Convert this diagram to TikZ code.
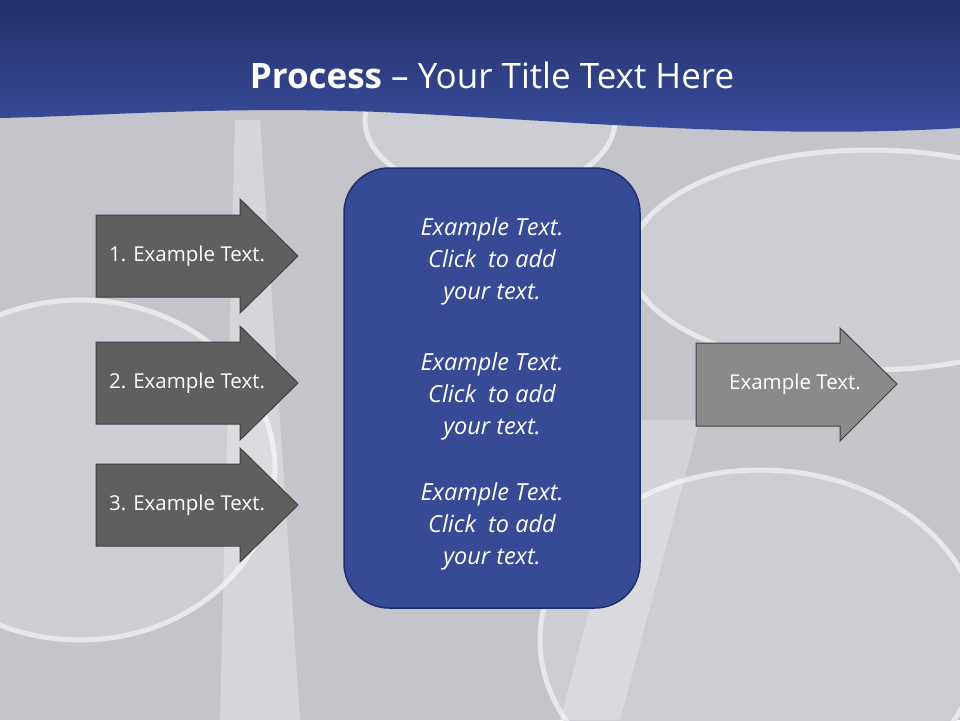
\documentclass[tikz,border=0pt]{standalone}
\usepackage{fontspec}
\setmainfont{Open Sans}
\definecolor{bg}{HTML}{C4C5CB}
\definecolor{bandA}{HTML}{22306A}
\definecolor{bandB}{HTML}{3A4E9E}
\definecolor{boxfill}{HTML}{364A96}
\definecolor{boxline}{HTML}{1F2D6A}
\definecolor{darkarrow}{HTML}{5F5F5F}
\definecolor{lightarrow}{HTML}{8A8A8A}
\begin{document}
\begin{tikzpicture}[x=1pt,y=-1pt,
  ring/.style={draw=white!60!bg,line width=5pt,fill=bg!85!white},
  arrowshape/.style={draw=black!75,line width=1pt},
  lbl/.style={text=white,font=\fontsize{20.5}{24}\selectfont},
  ctext/.style={text=white,font=\fontsize{23.5}{32}\selectfont\itshape,align=center}]
\useasboundingbox (0,0) rectangle (960,720);
\fill[bg] (0,0) rectangle (960,720);
% decorative rings
\draw[ring] (490,120) ellipse (125 and 75);
\draw[ring] (80,470) ellipse (195 and 170);
\draw[ring] (760,640) ellipse (220 and 170);
\draw[ring] (870,260) ellipse (240 and 110);
\fill[white,opacity=0.3] (235,120) -- (260,120) -- (300,720) -- (220,720) -- cycle;
\fill[white,opacity=0.25] (640,420) -- (700,420) -- (620,720) -- (560,720) -- cycle;
% top band
\shade[top color=bandA,bottom color=bandB] (0,0) -- (960,0) -- (960,128)
  .. controls (760,140) and (560,120) .. (380,112)
  .. controls (220,106) and (100,116) .. (0,118) -- cycle;
\node[text=white,font=\fontsize{35}{40}\selectfont] (title) at (492,75)
  {\textbf{Process} -- Your Title Text Here};
% center box
\draw[fill=boxfill,draw=boxline,line width=1.5pt,rounded corners=45pt] (344,168) rectangle (640,608);
\node[ctext] (t1) at (492,261) {Example Text.\\Click\ \ to add\\your text.};
\node[ctext] (t2) at (492,396) {Example Text.\\Click\ \ to add\\your text.};
\node[ctext] (t3) at (492,526) {Example Text.\\Click\ \ to add\\your text.};
% left arrows
\foreach \c/\n in {256/1,383/2,505/3}{
  \draw[arrowshape,fill=darkarrow] (96,\c-41) -- (240,\c-41) -- (240,\c-57) -- (298,\c)
     -- (240,\c+57) -- (240,\c+41) -- (96,\c+41) -- cycle;
  \node[lbl] (a\n) at (187,\c) {\n. Example Text.};
}
% right arrow
\draw[arrowshape,fill=lightarrow] (696,343) -- (840,343) -- (840,328) -- (897,384)
   -- (840,441) -- (840,426) -- (696,426) -- cycle;
\node[lbl] (r) at (795,384) {Example Text.};
\end{tikzpicture}
\end{document}
